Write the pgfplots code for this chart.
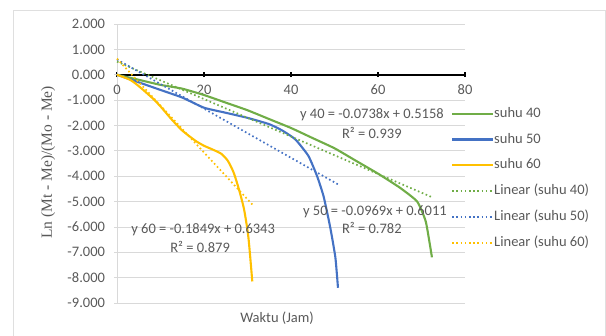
\documentclass[border=0pt]{standalone}
\usepackage{fontspec}
\setmainfont{Carlito}
\newfontfamily\serifF{Liberation Serif}
\usepackage{pgfplots}
\pgfplotsset{compat=1.18}
\definecolor{sgreen}{RGB}{112,173,71}
\definecolor{sblue}{RGB}{68,114,196}
\definecolor{syellow}{RGB}{255,192,0}
\definecolor{tc}{RGB}{89,89,89}
\definecolor{gridc}{RGB}{217,217,217}
\begin{document}
\begin{tikzpicture}[x=1pt,y=1pt]
\path[use as bounding box] (0,0) rectangle (606,336);
\draw[gray!25, line width=0.8pt] (13,-5) rectangle (605,326);
\begin{axis}[
  at={(117pt,33pt)}, anchor=south west,
  scale only axis, width=348pt, height=279pt,
  xmin=0, xmax=80, ymin=-9, ymax=2,
  xtick={0,20,40,60,80}, ytick={-9,-8,...,2},
  axis x line=middle, axis y line=left,
  hide obscured x ticks=false,
  x axis line style={-, black, line width=1.6pt},
  y axis line style={-, gridc, line width=0.8pt},
  xtick style={black, line width=1.2pt},
  ytick style={gridc, line width=0.8pt},
  major tick length=5pt,
  ymajorgrids, grid style={gridc, line width=0.8pt},
  /pgf/number format/assume math mode=true,
  ticklabel style={font=\fontsize{14.5}{17}\selectfont, text=tc},
  yticklabel style={xshift=-6pt, /pgf/number format/.cd, fixed, fixed zerofill, precision=3},
  xticklabel style={yshift=-4pt},
  xlabel={Waktu (Jam)},
  ylabel={\serifF Ln (Mt - Me)/(Mo - Me)},
  xlabel style={at={(axis description cs:0.46,-0.054)}, anchor=center, font=\fontsize{14.5}{17}\selectfont, text=tc},
  ylabel style={at={(axis description cs:-0.198,0.504)}, rotate=0, anchor=center, font=\fontsize{15.5}{18}\selectfont, text=tc},
  legend style={at={(rel axis cs:0.951,0.71)}, anchor=north west, draw=none, fill=none,
    font=\fontsize{14.5}{17}\selectfont, text=tc, row sep=12.9pt,
    nodes={inner sep=0pt, anchor=west, text height=10pt, text depth=3pt},
    /tikz/every even column/.append style={column sep=5pt}},
  legend cell align=left,
  legend image code/.code={\draw[#1] (0pt,0pt) -- (41pt,0pt);},
  clip=false,
]
\addplot[draw=sgreen, line width=2.1pt, smooth, tension=0.3] coordinates {
 (0,0) (5,-0.2) (10,-0.4) (15,-0.55) (20,-0.8) (25,-1.1) (30,-1.4) (35,-1.75)
 (40,-2.1) (45,-2.5) (50,-2.9) (55,-3.4) (60,-3.9) (65,-4.45) (69,-5.0)
 (71,-5.8) (72.4,-7.2)};
\addlegendentry{suhu 40}
\addplot[draw=sblue, line width=2.1pt, smooth, tension=0.3] coordinates {
 (0,0) (5,-0.3) (10,-0.6) (15,-0.9) (20,-1.3) (25,-1.5) (30,-1.7) (35,-1.95)
 (38,-2.2) (41,-2.55) (44,-3.2) (46,-4.0) (47.5,-4.8) (49,-6.0) (50.2,-7.2) (50.8,-8.4)};
\addlegendentry{suhu 50}
\addplot[draw=syellow, line width=2.1pt, smooth, tension=0.4] coordinates {
 (0,0) (3,-0.2) (5,-0.45) (8,-0.9) (10,-1.25) (12.5,-1.75) (15,-2.2) (18,-2.6)
 (20,-2.8) (22,-2.95) (24,-3.12) (25.5,-3.4) (26.8,-3.85) (28,-4.5) (29.2,-5.3) (30.2,-6.4) (31.1,-8.15)};
\addlegendentry{suhu 60}
\addplot[draw=sgreen, line width=1.7pt, dash pattern=on 1.6pt off 2.6pt] coordinates {(0,0.5158) (72.4,-4.8273)};
\addlegendentry{Linear (suhu 40)}
\addplot[draw=sblue, line width=1.7pt, dash pattern=on 1.6pt off 2.6pt] coordinates {(0,0.6011) (50.8,-4.3214)};
\addlegendentry{Linear (suhu 50)}
\addplot[draw=syellow, line width=1.7pt, dash pattern=on 1.6pt off 2.6pt] coordinates {(0,0.6343) (31.1,-5.1161)};
\addlegendentry{Linear (suhu 60)}
\begin{scope}[every node/.style={font=\fontsize{14.5}{17}\selectfont, text=tc}]
\node at (axis cs:58.6,-1.59) {y 40 = -0.0738x + 0.5158};
\node at (axis cs:58.6,-2.30) {R² = 0.939};
\node at (axis cs:59.3,-5.39) {y 50 = -0.0969x + 0.6011};
\node at (axis cs:58.6,-6.06) {R² = 0.782};
\node at (axis cs:19.8,-6.10) {y 60 = -0.1849x + 0.6343};
\node at (axis cs:19.1,-6.81) {R² = 0.879};
\end{scope}
\end{axis}
\end{tikzpicture}
\end{document}
